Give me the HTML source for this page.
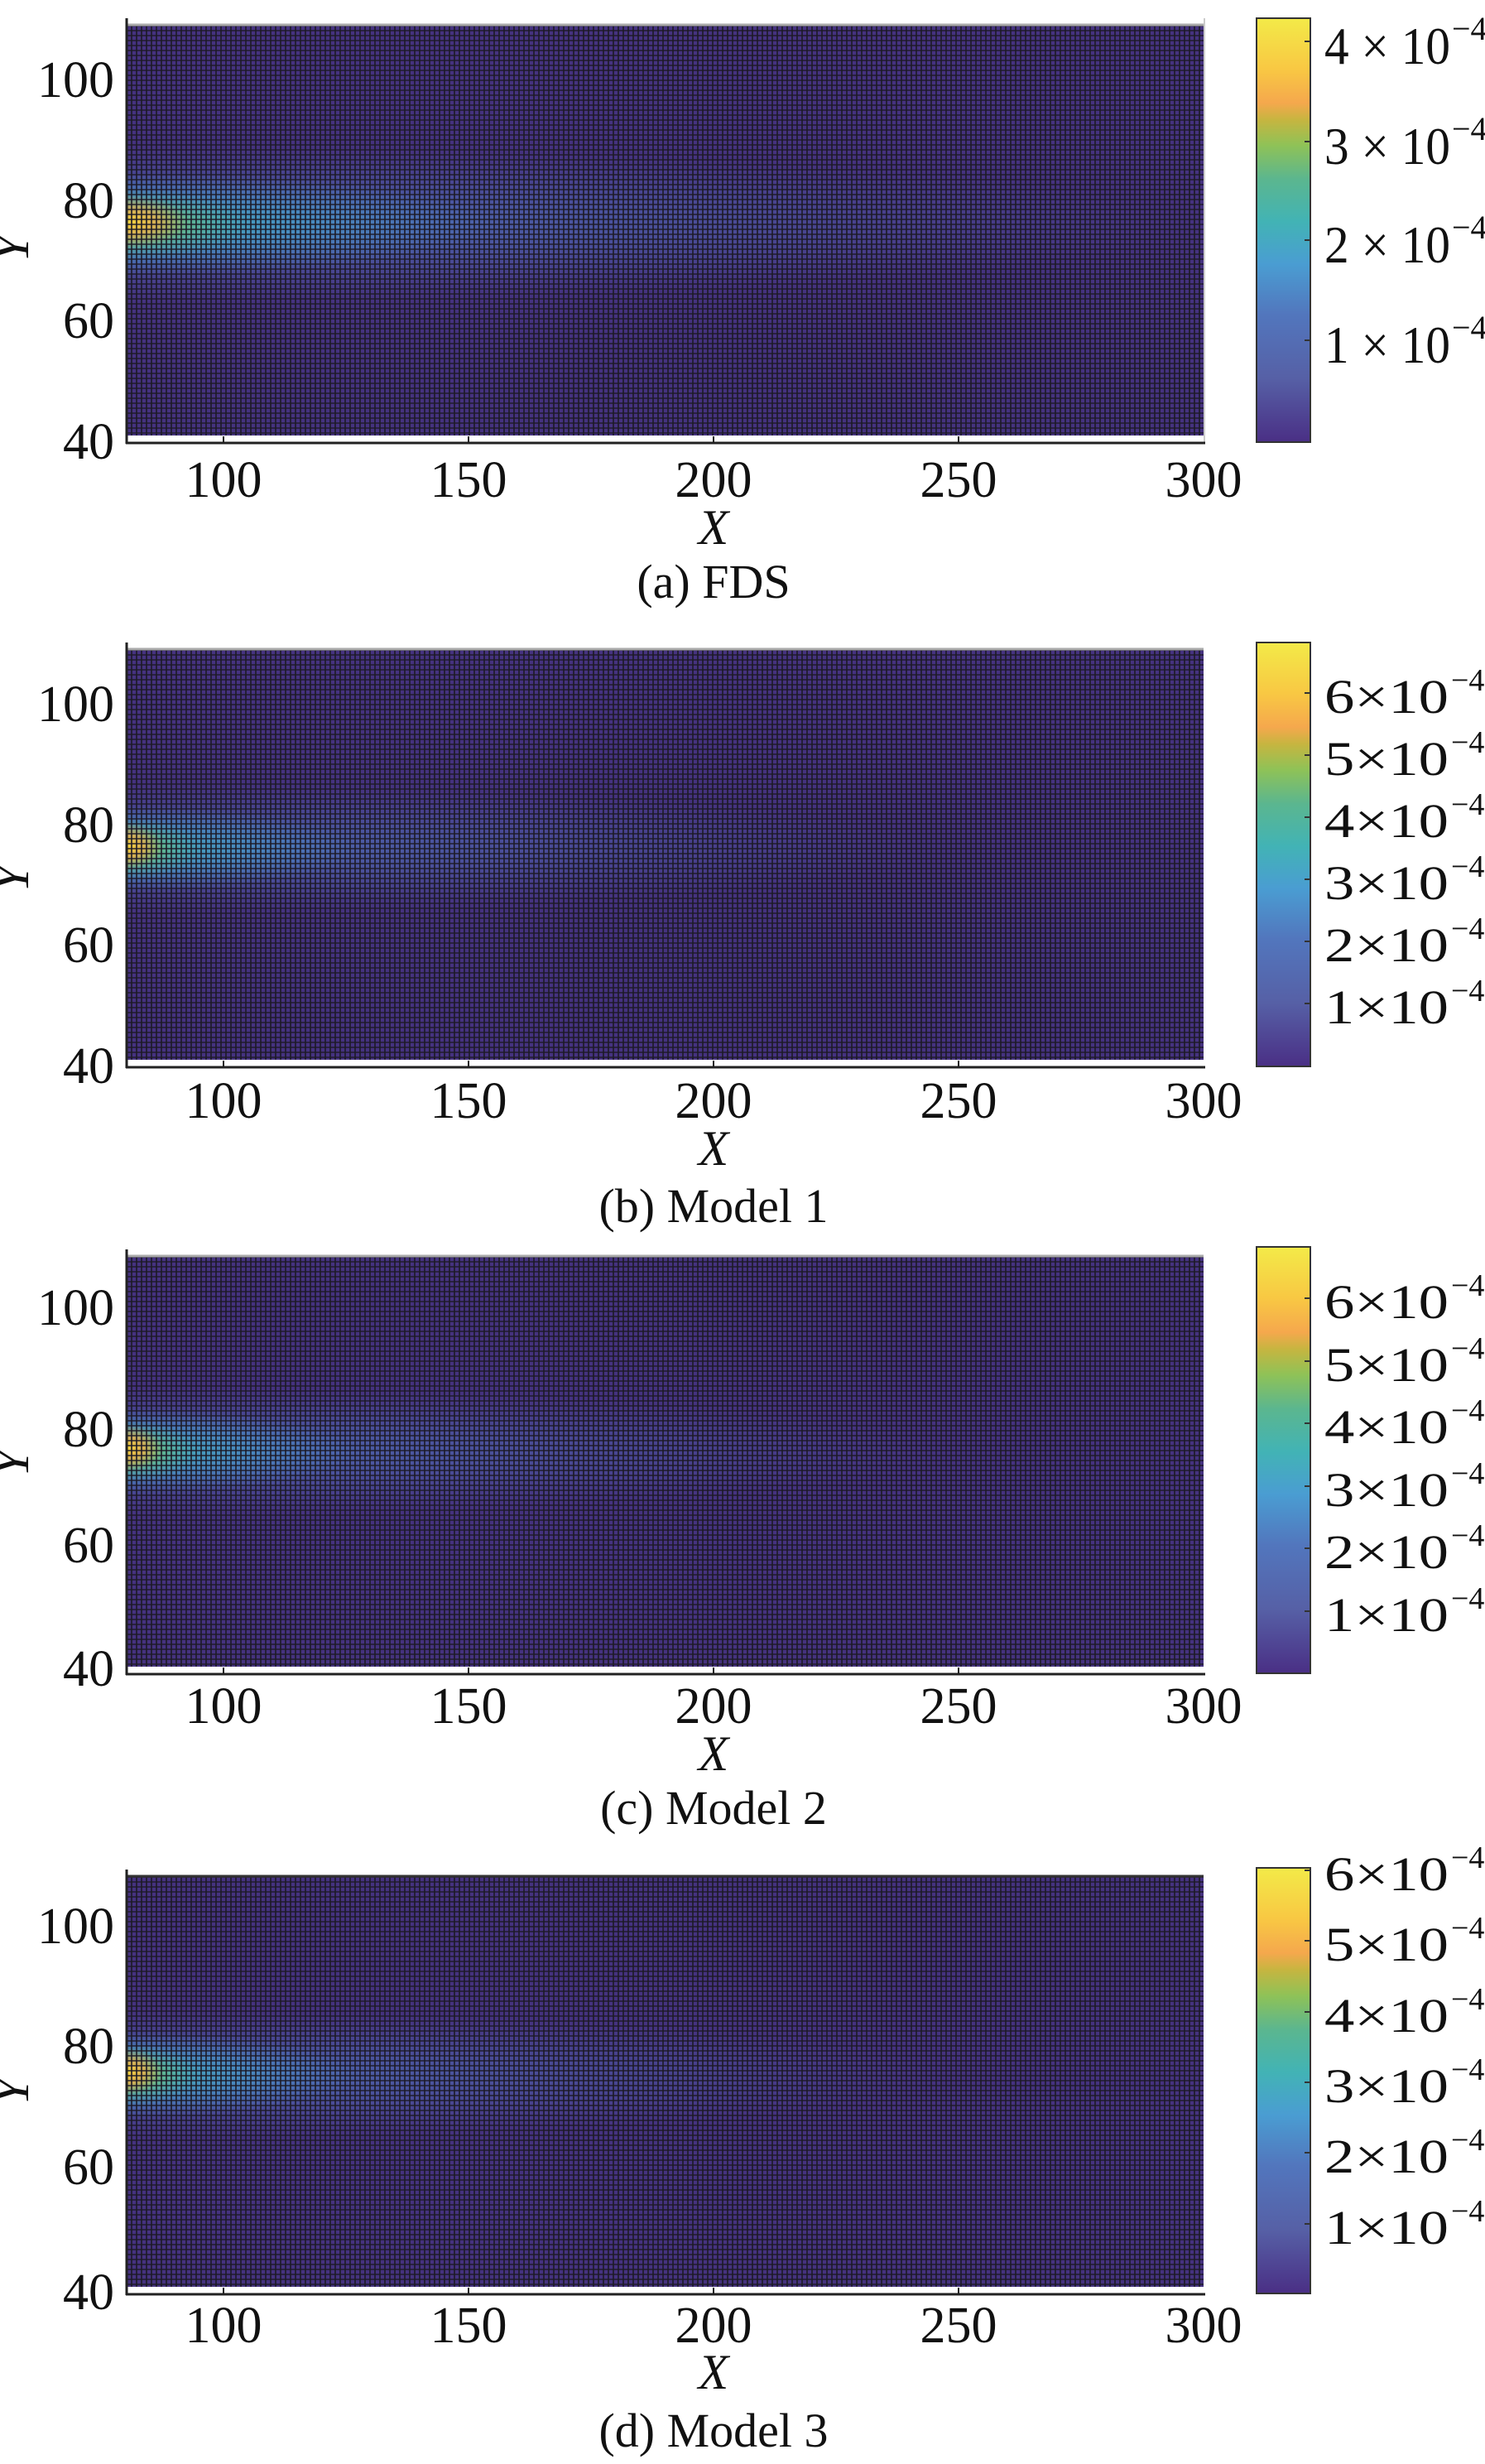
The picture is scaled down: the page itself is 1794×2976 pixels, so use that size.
<!DOCTYPE html>
<html><head><meta charset="utf-8"><style>
html,body{margin:0;padding:0;background:#fff;}
svg{display:block;}
text{font-family:"Liberation Serif",serif;fill:#111;}
</style></head><body>
<svg width="1794" height="2976" viewBox="0 0 1794 2976" xmlns="http://www.w3.org/2000/svg">
<defs>
<pattern id="grid" x="152" y="0" width="6" height="6" patternUnits="userSpaceOnUse">
<rect x="0" y="0" width="2" height="6" fill="#1c1a26" fill-opacity="0.8"/>
<rect x="0" y="0" width="6" height="2" fill="#1c1a26" fill-opacity="0.7"/>
</pattern>
<linearGradient id="cmap" x1="0" y1="1" x2="0" y2="0">
<stop offset="0" stop-color="#4a2f85"/>
<stop offset="0.15" stop-color="#5660a6"/>
<stop offset="0.3" stop-color="#5276bd"/>
<stop offset="0.42" stop-color="#4a9dd2"/>
<stop offset="0.52" stop-color="#42b3b5"/>
<stop offset="0.62" stop-color="#5bb68f"/>
<stop offset="0.7" stop-color="#8fc257"/>
<stop offset="0.76" stop-color="#c6b540"/>
<stop offset="0.8" stop-color="#f5a84d"/>
<stop offset="0.88" stop-color="#f8c843"/>
<stop offset="1" stop-color="#f3ea48"/>
</linearGradient>
<radialGradient id="gBlue"><stop offset="0" stop-color="#4f7cc0" stop-opacity="0.95"/><stop offset="0.5" stop-color="#4f6cb5" stop-opacity="0.5"/><stop offset="1" stop-color="#4f5aa5" stop-opacity="0"/></radialGradient>
<radialGradient id="gTeal"><stop offset="0" stop-color="#40b3b0" stop-opacity="1"/><stop offset="0.5" stop-color="#45a0c8" stop-opacity="0.6"/><stop offset="1" stop-color="#4a90d0" stop-opacity="0"/></radialGradient>
<radialGradient id="gGreen"><stop offset="0" stop-color="#a8c440" stop-opacity="1"/><stop offset="0.5" stop-color="#70bb78" stop-opacity="0.6"/><stop offset="1" stop-color="#50b5a0" stop-opacity="0"/></radialGradient>
<radialGradient id="gYel"><stop offset="0" stop-color="#f6d840" stop-opacity="1"/><stop offset="0.5" stop-color="#f5a84a" stop-opacity="0.7"/><stop offset="1" stop-color="#e0a040" stop-opacity="0"/></radialGradient>
<clipPath id="pc"><rect x="152" y="30" width="1302" height="496"/></clipPath>
</defs>

<g id="p1">
<g clip-path="url(#pc)">
<rect x="152" y="30" width="1302" height="496" fill="#45327f"/>
<ellipse cx="152" cy="271" rx="1300" ry="95" fill="url(#gBlue)"/>
<ellipse cx="152" cy="271" rx="450" ry="62" fill="url(#gTeal)"/>
<ellipse cx="152" cy="271" rx="150" ry="44" fill="url(#gGreen)"/>
<ellipse cx="152" cy="268" rx="75" ry="32" fill="url(#gYel)"/>
<rect x="152" y="30" width="1302" height="496" fill="url(#grid)"/>
</g>
<line x1="152" y1="30" x2="1454" y2="30" stroke="#aaa" stroke-width="3"/>
<line x1="1455" y1="22" x2="1455" y2="534" stroke="#ccc" stroke-width="2"/>
<line x1="153" y1="22" x2="153" y2="536" stroke="#222" stroke-width="3"/>
<line x1="152" y1="535" x2="1456" y2="535" stroke="#222" stroke-width="3"/>
<g stroke="#222" stroke-width="2"><line x1="270" y1="535" x2="270" y2="527"/><line x1="566" y1="535" x2="566" y2="527"/><line x1="862" y1="535" x2="862" y2="527"/><line x1="1158" y1="535" x2="1158" y2="527"/></g>
<g font-size="62" text-anchor="end"><text x="138" y="117">100</text><text x="138" y="263">80</text><text x="138" y="408">60</text><text x="138" y="554">40</text></g>
<g font-size="62" text-anchor="middle"><text x="270" y="600">100</text><text x="566" y="600">150</text><text x="862" y="600">200</text><text x="1158" y="600">250</text><text x="1454" y="600">300</text></g>
<text x="862" y="657" font-size="60" font-style="italic" text-anchor="middle">X</text>
<text transform="translate(34,300) rotate(-90)" font-size="62" font-style="italic" text-anchor="middle">Y</text>
<text x="862" y="722" font-size="58" text-anchor="middle">(a) FDS</text>
<rect x="1518" y="22" width="65" height="512" fill="url(#cmap)" stroke="#333" stroke-width="2"/>
<g stroke="#333" stroke-width="2"><line x1="1576" y1="50" x2="1583" y2="50"/><line x1="1576" y1="171" x2="1583" y2="171"/><line x1="1576" y1="290" x2="1583" y2="290"/><line x1="1576" y1="411" x2="1583" y2="411"/></g>
<g font-size="64"><text x="1600" y="77" textLength="152" lengthAdjust="spacingAndGlyphs">4 × 10</text><text x="1600" y="198" textLength="152" lengthAdjust="spacingAndGlyphs">3 × 10</text><text x="1600" y="317" textLength="152" lengthAdjust="spacingAndGlyphs">2 × 10</text><text x="1600" y="438" textLength="152" lengthAdjust="spacingAndGlyphs">1 × 10</text></g>
<g font-size="40"><text x="1754" y="48">−4</text><text x="1754" y="169">−4</text><text x="1754" y="288">−4</text><text x="1754" y="409">−4</text></g>
</g>

<g transform="translate(0,754)">
<g clip-path="url(#pc)">
<rect x="152" y="30" width="1302" height="496" fill="#45327f"/>
<ellipse cx="152" cy="271" rx="1000" ry="78" fill="url(#gBlue)" opacity="0.9"/>
<ellipse cx="152" cy="271" rx="280" ry="52" fill="url(#gTeal)"/>
<ellipse cx="152" cy="271" rx="90" ry="38" fill="url(#gGreen)"/>
<ellipse cx="152" cy="268" rx="44" ry="28" fill="url(#gYel)"/>
<rect x="152" y="30" width="1302" height="496" fill="url(#grid)"/>
</g>
<line x1="152" y1="30" x2="1454" y2="30" stroke="#aaa" stroke-width="3"/>
<line x1="153" y1="22" x2="153" y2="536" stroke="#222" stroke-width="3"/>
<line x1="152" y1="535" x2="1456" y2="535" stroke="#222" stroke-width="3"/>
<g stroke="#222" stroke-width="2"><line x1="270" y1="535" x2="270" y2="527"/><line x1="566" y1="535" x2="566" y2="527"/><line x1="862" y1="535" x2="862" y2="527"/><line x1="1158" y1="535" x2="1158" y2="527"/></g>
<g font-size="62" text-anchor="end"><text x="138" y="117">100</text><text x="138" y="263">80</text><text x="138" y="408">60</text><text x="138" y="554">40</text></g>
<g font-size="62" text-anchor="middle"><text x="270" y="596">100</text><text x="566" y="596">150</text><text x="862" y="596">200</text><text x="1158" y="596">250</text><text x="1454" y="596">300</text></g>
<text x="862" y="653" font-size="60" font-style="italic" text-anchor="middle">X</text>
<text transform="translate(34,307) rotate(-90)" font-size="62" font-style="italic" text-anchor="middle">Y</text>
<text x="862" y="722" font-size="58" text-anchor="middle">(b) Model 1</text>
<rect x="1518" y="22" width="65" height="512" fill="url(#cmap)" stroke="#333" stroke-width="2"/>
<g stroke="#333" stroke-width="2"><line x1="1576" y1="83" x2="1583" y2="83"/><line x1="1576" y1="158" x2="1583" y2="158"/><line x1="1576" y1="233" x2="1583" y2="233"/><line x1="1576" y1="308" x2="1583" y2="308"/><line x1="1576" y1="383" x2="1583" y2="383"/><line x1="1576" y1="458" x2="1583" y2="458"/></g>
<g font-size="58"><text x="1600" y="107" textLength="150" lengthAdjust="spacingAndGlyphs">6×10</text><text x="1600" y="182" textLength="150" lengthAdjust="spacingAndGlyphs">5×10</text><text x="1600" y="257" textLength="150" lengthAdjust="spacingAndGlyphs">4×10</text><text x="1600" y="332" textLength="150" lengthAdjust="spacingAndGlyphs">3×10</text><text x="1600" y="407" textLength="150" lengthAdjust="spacingAndGlyphs">2×10</text><text x="1600" y="482" textLength="150" lengthAdjust="spacingAndGlyphs">1×10</text></g>
<g font-size="38"><text x="1753" y="80">−4</text><text x="1753" y="155">−4</text><text x="1753" y="230">−4</text><text x="1753" y="305">−4</text><text x="1753" y="380">−4</text><text x="1753" y="455">−4</text></g>
</g>

<g transform="translate(0,1487)">
<g clip-path="url(#pc)">
<rect x="152" y="30" width="1302" height="496" fill="#45327f"/>
<ellipse cx="152" cy="266" rx="1000" ry="78" fill="url(#gBlue)" opacity="0.9"/>
<ellipse cx="152" cy="266" rx="280" ry="52" fill="url(#gTeal)"/>
<ellipse cx="152" cy="266" rx="90" ry="38" fill="url(#gGreen)"/>
<ellipse cx="152" cy="262" rx="44" ry="28" fill="url(#gYel)"/>
<rect x="152" y="30" width="1302" height="496" fill="url(#grid)"/>
</g>
<line x1="152" y1="30" x2="1454" y2="30" stroke="#aaa" stroke-width="3"/>
<line x1="153" y1="22" x2="153" y2="536" stroke="#222" stroke-width="3"/>
<line x1="152" y1="535" x2="1456" y2="535" stroke="#222" stroke-width="3"/>
<g stroke="#222" stroke-width="2"><line x1="270" y1="535" x2="270" y2="527"/><line x1="566" y1="535" x2="566" y2="527"/><line x1="862" y1="535" x2="862" y2="527"/><line x1="1158" y1="535" x2="1158" y2="527"/></g>
<g font-size="62" text-anchor="end"><text x="138" y="113">100</text><text x="138" y="260">80</text><text x="138" y="400">60</text><text x="138" y="549">40</text></g>
<g font-size="62" text-anchor="middle"><text x="270" y="594">100</text><text x="566" y="594">150</text><text x="862" y="594">200</text><text x="1158" y="594">250</text><text x="1454" y="594">300</text></g>
<text x="862" y="651" font-size="60" font-style="italic" text-anchor="middle">X</text>
<text transform="translate(34,280) rotate(-90)" font-size="62" font-style="italic" text-anchor="middle">Y</text>
<text x="862" y="716" font-size="58" text-anchor="middle">(c) Model 2</text>
<rect x="1518" y="19" width="65" height="515" fill="url(#cmap)" stroke="#333" stroke-width="2"/>
<g stroke="#333" stroke-width="2"><line x1="1576" y1="81" x2="1583" y2="81"/><line x1="1576" y1="157" x2="1583" y2="157"/><line x1="1576" y1="232" x2="1583" y2="232"/><line x1="1576" y1="308" x2="1583" y2="308"/><line x1="1576" y1="383" x2="1583" y2="383"/><line x1="1576" y1="459" x2="1583" y2="459"/></g>
<g font-size="58"><text x="1600" y="105" textLength="150" lengthAdjust="spacingAndGlyphs">6×10</text><text x="1600" y="181" textLength="150" lengthAdjust="spacingAndGlyphs">5×10</text><text x="1600" y="256" textLength="150" lengthAdjust="spacingAndGlyphs">4×10</text><text x="1600" y="332" textLength="150" lengthAdjust="spacingAndGlyphs">3×10</text><text x="1600" y="407" textLength="150" lengthAdjust="spacingAndGlyphs">2×10</text><text x="1600" y="483" textLength="150" lengthAdjust="spacingAndGlyphs">1×10</text></g>
<g font-size="38"><text x="1753" y="78">−4</text><text x="1753" y="154">−4</text><text x="1753" y="229">−4</text><text x="1753" y="305">−4</text><text x="1753" y="380">−4</text><text x="1753" y="456">−4</text></g>
</g>

<g transform="translate(0,2236)">
<g clip-path="url(#pc)">
<rect x="152" y="30" width="1302" height="496" fill="#45327f"/>
<ellipse cx="152" cy="270" rx="1000" ry="78" fill="url(#gBlue)" opacity="0.9"/>
<ellipse cx="152" cy="270" rx="280" ry="52" fill="url(#gTeal)"/>
<ellipse cx="152" cy="270" rx="90" ry="38" fill="url(#gGreen)"/>
<ellipse cx="152" cy="266" rx="44" ry="28" fill="url(#gYel)"/>
<rect x="152" y="30" width="1302" height="496" fill="url(#grid)"/>
</g>
<line x1="152" y1="30" x2="1454" y2="30" stroke="#333" stroke-width="3"/>
<line x1="153" y1="22" x2="153" y2="536" stroke="#222" stroke-width="3"/>
<line x1="152" y1="535" x2="1456" y2="535" stroke="#222" stroke-width="3"/>
<g stroke="#222" stroke-width="2"><line x1="270" y1="535" x2="270" y2="527"/><line x1="566" y1="535" x2="566" y2="527"/><line x1="862" y1="535" x2="862" y2="527"/><line x1="1158" y1="535" x2="1158" y2="527"/></g>
<g font-size="62" text-anchor="end"><text x="138" y="111">100</text><text x="138" y="256">80</text><text x="138" y="402">60</text><text x="138" y="553">40</text></g>
<g font-size="62" text-anchor="middle"><text x="270" y="593">100</text><text x="566" y="593">150</text><text x="862" y="593">200</text><text x="1158" y="593">250</text><text x="1454" y="593">300</text></g>
<text x="862" y="649" font-size="60" font-style="italic" text-anchor="middle">X</text>
<text transform="translate(34,290) rotate(-90)" font-size="62" font-style="italic" text-anchor="middle">Y</text>
<text x="862" y="719" font-size="58" text-anchor="middle">(d) Model 3</text>
<rect x="1518" y="20" width="65" height="514" fill="url(#cmap)" stroke="#333" stroke-width="2"/>
<g stroke="#333" stroke-width="2"><line x1="1576" y1="23" x2="1583" y2="23"/><line x1="1576" y1="108" x2="1583" y2="108"/><line x1="1576" y1="194" x2="1583" y2="194"/><line x1="1576" y1="279" x2="1583" y2="279"/><line x1="1576" y1="364" x2="1583" y2="364"/><line x1="1576" y1="450" x2="1583" y2="450"/></g>
<g font-size="58"><text x="1600" y="47" textLength="150" lengthAdjust="spacingAndGlyphs">6×10</text><text x="1600" y="132" textLength="150" lengthAdjust="spacingAndGlyphs">5×10</text><text x="1600" y="218" textLength="150" lengthAdjust="spacingAndGlyphs">4×10</text><text x="1600" y="303" textLength="150" lengthAdjust="spacingAndGlyphs">3×10</text><text x="1600" y="388" textLength="150" lengthAdjust="spacingAndGlyphs">2×10</text><text x="1600" y="474" textLength="150" lengthAdjust="spacingAndGlyphs">1×10</text></g>
<g font-size="38"><text x="1753" y="20">−4</text><text x="1753" y="105">−4</text><text x="1753" y="191">−4</text><text x="1753" y="276">−4</text><text x="1753" y="361">−4</text><text x="1753" y="447">−4</text></g>
</g>
</svg>
</body></html>
